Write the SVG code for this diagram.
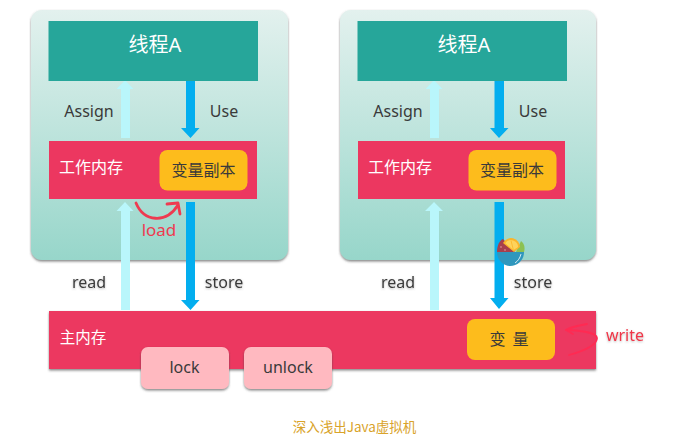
<svg xmlns="http://www.w3.org/2000/svg" width="693" height="441" viewBox="0 0 693 441">
<style>
text{font-family:"Noto Sans","Noto Sans CJK SC",sans-serif;text-anchor:middle}
.thread{fill:#26a69a}
.pink{fill:#ec3760}
.yellow{fill:#fdbc1c}
.rose{fill:#ffb9c0}
.panel{fill:url(#pg)}
.w{fill:#fff}
.k{fill:#3a3a3a}
.cjk{font-family:"Noto Sans CJK SC",sans-serif}
.t20{font-size:20px}
.t15{font-size:15.500px}
.t16{font-size:16px}
.cap{font-family:"Noto Sans CJK SC",sans-serif;font-size:13.500px;fill:#d9a32a}
.red{fill:#ee3a50}
.cur{fill:none;stroke:#ee3a50;stroke-width:2.800;stroke-linecap:round;stroke-linejoin:round}
.wr{fill:none;stroke:#ff2a52;stroke-width:1.800;stroke-linecap:round;stroke-linejoin:round}
.up{fill:#b9f6fb}
.down{fill:#03aeef}
</style>
<defs>
<linearGradient id="pg" x1="0" y1="0" x2="0" y2="1"><stop offset="0" stop-color="#e3f1ee"/><stop offset="1" stop-color="#97d6ca"/></linearGradient>
<filter id="sh" x="-5%" y="-5%" width="110%" height="115%"><feDropShadow dx="0" dy="1.500" stdDeviation="1.200" flood-color="#444" flood-opacity=".65"/></filter>
<filter id="ts" x="-10%" y="-20%" width="120%" height="150%"><feDropShadow dx="0" dy="1" stdDeviation="1" flood-color="#777" flood-opacity=".5"/></filter>
</defs>

<g id="panel-left"><rect class="panel" x="31" y="10" width="257" height="250" rx="11" filter="url(#sh)"/></g>
<g id="panel-right"><rect class="panel" x="340" y="10" width="256" height="250" rx="11" filter="url(#sh)"/></g>

<g id="main-memory"><rect class="pink" x="49" y="311" width="547" height="58" filter="url(#sh)"/><text class="w t15 cjk" x="83" y="343">主内存</text></g>

<g id="connectors">
<path class="up" d="M125 80L133.500 89H130V138H121V89H116.500Z"/>
<path class="down" d="M186 80H195V128H199.500L190.500 138L181 128H186Z"/>
<path class="up" d="M125 202L133.500 211H130V310H121V211H116.500Z"/>
<path class="down" d="M186 202H195V300H199.500L190.500 310L181 300H186Z"/>
<path class="up" d="M434 80L442.500 89H439V138H430V89H425.500Z"/>
<path class="down" d="M494.500 80H504V128H508.500L499 138L490 128H494.500Z"/>
<path class="up" d="M434 202L443 211H439V310H430V211H425Z"/>
<path class="down" d="M494.500 202H504V298H508.500L499 309L490 298H494.500Z"/>
<path class="cur" d="M136 203C144 222 166 224 178 205M167 204L178 203L180 214"/>
<path class="wr" d="M587 324C576 326 569 328 566 330C576 330 597 332 597 338C597 346 580 352 569 355"/>
<path class="wr" d="M566 330L573 334"/>
</g>

<g id="thread-left"><rect class="thread" x="48.500" y="21" width="209.500" height="60"/><text class="w t20" x="155" y="52">线程A</text></g>
<g id="thread-right"><rect class="thread" x="357.500" y="21" width="209.500" height="60"/><text class="w t20" x="464" y="52">线程A</text></g>
<g id="work-left"><rect class="pink" x="49" y="141" width="208" height="58"/><text class="w t16 cjk" x="91" y="173">工作内存</text></g>
<g id="work-right"><rect class="pink" x="358" y="141" width="207" height="58"/><text class="w t16 cjk" x="400" y="173">工作内存</text></g>
<g id="copy-left"><rect class="yellow" x="159.500" y="150" width="88" height="40.500" rx="8"/><text class="k t16 cjk" x="203.500" y="176">变量副本</text></g>
<g id="copy-right"><rect class="yellow" x="468.500" y="150" width="88" height="40.500" rx="8"/><text class="k t16 cjk" x="512" y="176">变量副本</text></g>
<g id="variable"><rect class="yellow" x="467" y="319" width="88" height="41" rx="8"/><text class="k t16 cjk" x="509" y="345" xml:space="preserve">变  量</text></g>
<g id="lock"><rect class="rose" x="141" y="347" width="88" height="42" rx="7" filter="url(#sh)"/><text class="k t16" x="184.500" y="373">lock</text></g>
<g id="unlock"><rect class="rose" x="244" y="347" width="88" height="42" rx="7" filter="url(#sh)"/><text class="k t16" x="288" y="373">unlock</text></g>

<g id="labels">
<text class="k t16" x="89" y="117">Assign</text>
<text class="k t16" x="224" y="117">Use</text>
<text class="k t16" x="398" y="117">Assign</text>
<text class="k t16" x="533" y="117">Use</text>
<text class="k t16" x="89" y="288" filter="url(#ts)">read</text>
<text class="k t16" x="224" y="288" filter="url(#ts)">store</text>
<text class="k t16" x="398" y="288" filter="url(#ts)">read</text>
<text class="k t16" x="533" y="288" filter="url(#ts)">store</text>
<text class="red" font-size="17" x="159" y="236">load</text>
<text class="t16" x="625" y="341" fill="#f03548" filter="url(#ts)">write</text>
</g>

<g id="bowl-icon">
<path d="M497 252C497 245 500 240 503 239L515 252Z" fill="#a83f4c"/>
<path d="M521 241C525 244 525 249 524 252H516Z" fill="#8cc152"/>
<path d="M503 243A9 9 0 0 1 520 247L514 252Z" fill="#fbb52a"/>
<path d="M505 243.500A7 7 0 0 1 518 247.500L513.500 250.500Z" fill="#fdd35c"/>
<path d="M511 240.500L513.500 250.500M505 243.500L513.500 250.500M518 247.500L513.500 250.500" stroke="#fbb52a" stroke-width=".8" fill="none"/>
<circle cx="501" cy="247" r=".8" fill="#e8a0a8"/><circle cx="505" cy="250" r=".8" fill="#e8a0a8"/>
<path d="M497 252H524C524 260 518 266 510 266C503 266 497 260 497 252Z" fill="#2f97bd"/>
<path d="M521 254C520 258 518 261 515 263" stroke="#fff" stroke-width=".8" fill="none"/>
</g>

<text class="cap" x="354.500" y="432">深入浅出Java虚拟机</text>
</svg>
